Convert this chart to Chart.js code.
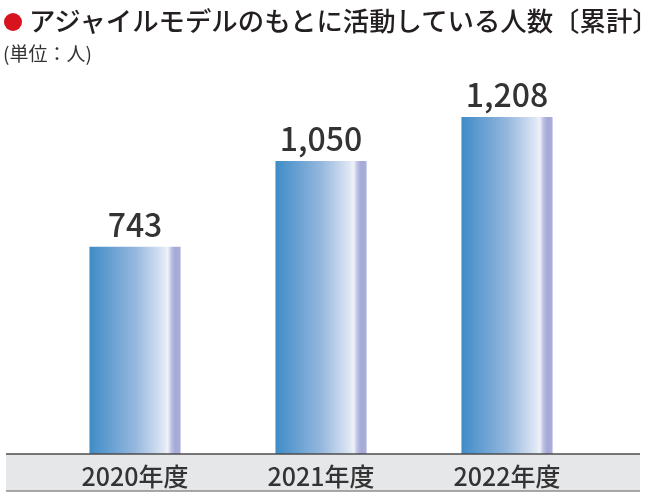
<!DOCTYPE html>
<html lang="ja">
<head>
<meta charset="utf-8">
<script src="https://cdn.jsdelivr.net/npm/chart.js@4"></script>
<style>
  body { margin: 0; background: #fff; }
  .wrap { position: relative; width: 645px; height: 497px; overflow: hidden; }
  canvas { position: absolute; left: 0; top: 0; }
  .title {
    position: absolute; left: 4px; top: 4px; white-space: nowrap;
    font-family: "Noto Sans CJK JP", sans-serif; font-size: 26.4px; font-weight: 500;
    color: #231f20; line-height: 32px;
  }
  .title .dot {
    display: inline-block; width: 18px; height: 18px; border-radius: 50%;
    background: #d7141e; margin-right: 7px; vertical-align: 0px;
  }
  .unit {
    position: absolute; left: 3px; top: 39px; white-space: nowrap;
    font-family: "Noto Sans CJK JP", sans-serif; font-size: 19px; color: #333;
  }
</style>
</head>
<body>
<div class="wrap">
  <canvas id="chart" width="645" height="497"></canvas>
  <div class="title"><span class="dot"></span>アジャイルモデルのもとに活動している人数〔累計〕</div>
  <div class="unit">(単位：人)</div>
</div>
<script>
const years = ['2020年度', '2021年度', '2022年度']
const members = [743, 1050, 1208]

// gray band under the bars, with a dark line on top
const bandPlugin = {
  id: 'band',
  beforeDraw(chart) {
    const ctx = chart.ctx
    const bottom = chart.chartArea.bottom
    ctx.save()
    ctx.fillStyle = '#e6e7e8'
    ctx.fillRect(6, bottom, chart.width - 11, 37)
    ctx.restore()
  },
  beforeDatasetsDraw(chart) {
    const meta = chart.getDatasetMeta(0)
    meta.data.forEach((bar) => {
      const left = bar.x - bar.width / 2
      const g = chart.ctx.createLinearGradient(left, 0, left + bar.width, 0)
      g.addColorStop(0, '#3f8cc7')
      g.addColorStop(0.5, '#94b7de')
      g.addColorStop(0.8, '#dbe4f3')
      g.addColorStop(0.86, '#eef2f9')
      g.addColorStop(0.9, '#bcc0e3')
      g.addColorStop(0.94, '#a5a9d7')
      g.addColorStop(1, '#aaaed9')
      // options are shared between bars, so give each bar its own copy
      bar.options = Object.assign({}, bar.options, { backgroundColor: g })
    })
  },
  afterDatasetsDraw(chart) {
    const ctx = chart.ctx
    const meta = chart.getDatasetMeta(0)
    ctx.save()
    ctx.fillStyle = '#333333'
    ctx.font = '500 32px "Noto Sans CJK JP", sans-serif'
    ctx.textAlign = 'center'
    ctx.textBaseline = 'alphabetic'
    meta.data.forEach((bar, i) => {
      ctx.fillText(members[i].toLocaleString('en-US'), bar.x, bar.y - 10)
    })
    ctx.restore()
  },
  afterDraw(chart) {
    const ctx = chart.ctx
    const bottom = chart.chartArea.bottom
    ctx.save()
    ctx.lineWidth = 1.5
    ctx.strokeStyle = '#4d4d4d'
    ctx.beginPath()
    ctx.moveTo(6, bottom)
    ctx.lineTo(chart.width - 5, bottom)
    ctx.stroke()
    ctx.strokeStyle = '#8c8c8c'
    ctx.beginPath()
    ctx.moveTo(6, bottom + 37)
    ctx.lineTo(chart.width - 5, bottom + 37)
    ctx.stroke()
    ctx.restore()
  },
}

new Chart(document.getElementById('chart'), {
  type: 'bar',
  data: {
    labels: years,
    datasets: [
      {
        data: members,
        backgroundColor: '#6fa3d5',
        borderWidth: 0,
        categoryPercentage: 1,
        barPercentage: 0.49,
      },
    ],
  },
  options: {
    responsive: false,
    animation: false,
    layout: { padding: { left: 42, right: 45, top: 35.5, bottom: 0 } },
    plugins: { legend: { display: false }, tooltip: { enabled: false } },
    scales: {
      y: { display: false, min: 0, max: 1500 },
      x: {
        grid: { display: false },
        border: { display: false },
        ticks: {
          color: '#333333',
          padding: -1,
          font: { family: '"Noto Sans CJK JP", sans-serif', size: 25, weight: '500' },
        },
        afterFit(scale) {
          scale.height = 43
        },
      },
    },
  },
  plugins: [bandPlugin],
})
</script>
</body>
</html>
